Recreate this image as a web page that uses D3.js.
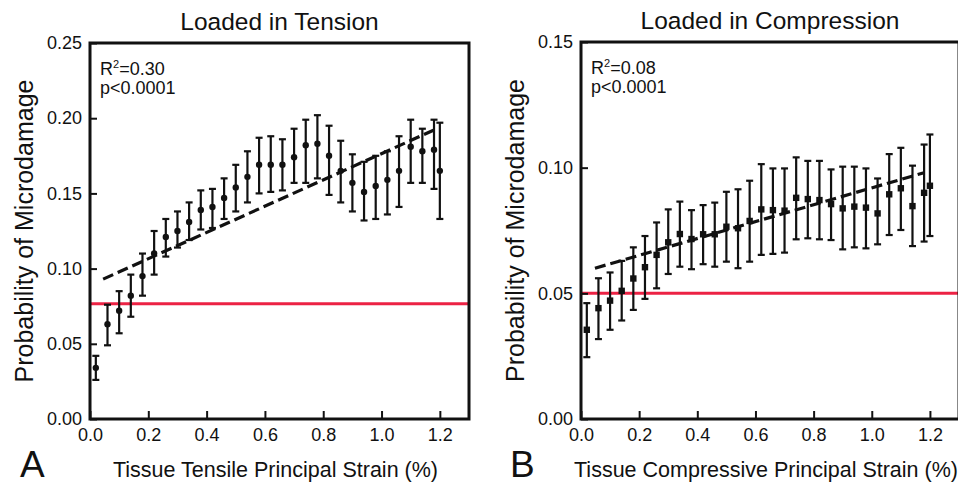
<!DOCTYPE html>
<html>
<head>
<meta charset="utf-8">
<script src="https://d3js.org/d3.v7.min.js"></script>
<style>
  body { margin: 0; background: #fff; }
  text { font-family: "Liberation Sans", Arial, sans-serif; fill: #111; }
</style>
</head>
<body>
<svg id="chart" width="958" height="487"></svg>
<script>
// strain bins (%), same for both panels
const strain = [0.02, 0.06, 0.10, 0.14, 0.18, 0.22, 0.26, 0.30, 0.34, 0.38, 0.42, 0.46,
  0.50, 0.54, 0.58, 0.62, 0.66, 0.70, 0.74, 0.78, 0.82, 0.86, 0.90, 0.94, 0.98, 1.02,
  1.06, 1.10, 1.14, 1.18, 1.20]

// panel A - tension
const tensionMean = [0.034, 0.063, 0.072, 0.082, 0.095, 0.110, 0.121, 0.125, 0.131, 0.139, 0.141, 0.147,
  0.154, 0.161, 0.169, 0.169, 0.169, 0.174, 0.182, 0.183, 0.175, 0.165, 0.157, 0.151, 0.155, 0.159,
  0.165, 0.181, 0.178, 0.179, 0.165]
const tensionLow = [0.026, 0.049, 0.057, 0.068, 0.082, 0.096, 0.108, 0.114, 0.119, 0.126, 0.127, 0.133,
  0.138, 0.144, 0.150, 0.151, 0.152, 0.157, 0.157, 0.160, 0.149, 0.144, 0.138, 0.132, 0.133, 0.136,
  0.141, 0.157, 0.157, 0.153, 0.133]
const tensionHigh = [0.042, 0.076, 0.085, 0.096, 0.110, 0.125, 0.133, 0.138, 0.144, 0.152, 0.153, 0.160,
  0.169, 0.178, 0.187, 0.188, 0.186, 0.193, 0.199, 0.202, 0.195, 0.185, 0.176, 0.171, 0.175, 0.178,
  0.188, 0.199, 0.193, 0.199, 0.197]
const tensionFitX = [0.045, 1.178]
const tensionFitY = [0.093, 0.192]
const tensionBaseline = 0.0767
const tensionTicksY = [0, 0.05, 0.10, 0.15, 0.20, 0.25]

// panel B - compression
const compMean = [0.0355, 0.0441, 0.0471, 0.0510, 0.0559, 0.0604, 0.0653, 0.0703, 0.0736, 0.0716, 0.0735, 0.0735,
  0.0765, 0.0759, 0.0788, 0.0834, 0.0831, 0.0829, 0.0880, 0.0875, 0.0871, 0.0855, 0.0838, 0.0845, 0.0841, 0.0818,
  0.0894, 0.0918, 0.0847, 0.0900, 0.0928]
const compLow = [0.0246, 0.0318, 0.0355, 0.0392, 0.0434, 0.0478, 0.0520, 0.0577, 0.0606, 0.0596, 0.0616, 0.0606,
  0.0626, 0.0600, 0.0626, 0.0653, 0.0657, 0.0662, 0.0715, 0.0719, 0.0715, 0.0712, 0.0675, 0.0683, 0.0679, 0.0695,
  0.0732, 0.0752, 0.0688, 0.0706, 0.0728]
const compHigh = [0.0461, 0.0560, 0.0583, 0.0629, 0.0683, 0.0728, 0.0782, 0.0834, 0.0865, 0.0831, 0.0851, 0.0861,
  0.0904, 0.0914, 0.0948, 0.1014, 0.0997, 0.0997, 0.1041, 0.1027, 0.1027, 0.0993, 0.1004, 0.1004, 0.0997, 0.0957,
  0.1054, 0.1079, 0.1008, 0.1092, 0.1132]
const compFitX = [0.048, 1.18]
const compFitY = [0.060, 0.098]
const compBaseline = 0.050
const compTicksY = [0, 0.05, 0.10, 0.15]

const xTicks = [0, 0.2, 0.4, 0.6, 0.8, 1.0, 1.2]

const svg = d3.select('#chart')

function drawPanel(p){
  const g = svg.append("g")
    .attr("transform", "translate(" + p.left + "," + p.top + ")")

  const x = d3.scaleLinear().domain([0, 1.3]).range([0, p.width])
  const y = d3.scaleLinear().domain([0, p.yMax]).range([p.height, 0])

  // red reference line
  g.append("line")
    .attr("x1", 0).attr("x2", p.width)
    .attr("y1", y(p.baseline)).attr("y2", y(p.baseline))
    .attr("stroke", "#ec2244")
    .attr("stroke-width", 3)

  // dashed fit line
  g.append("path")
    .datum(d3.zip(p.fitX, p.fitY))
    .attr("fill", "none")
    .attr("stroke", "#111")
    .attr("stroke-width", 3.2)
    .attr("stroke-dasharray", "11,5")
    .attr("d", d3.line()
      .x(function(d) { return x(d[0]) })
      .y(function(d) { return y(d[1]) }))

  const rows = strain.map(function(s, i){ return {x: s, m: p.mean[i], lo: p.low[i], hi: p.high[i]} })

  const bars = g.append("g").selectAll("g")
    .data(rows)
    .enter()
    .append("g")
    .attr("stroke", "#111")
    .attr("stroke-width", 2.2)

  bars.append("line")
    .attr("x1", function(d) { return x(d.x) })
    .attr("x2", function(d) { return x(d.x) })
    .attr("y1", function(d) { return y(d.lo) })
    .attr("y2", function(d) { return y(d.hi) })
  bars.append("line")
    .attr("x1", function(d) { return x(d.x) - 3.5 })
    .attr("x2", function(d) { return x(d.x) + 3.5 })
    .attr("y1", function(d) { return y(d.hi) })
    .attr("y2", function(d) { return y(d.hi) })
  bars.append("line")
    .attr("x1", function(d) { return x(d.x) - 3.5 })
    .attr("x2", function(d) { return x(d.x) + 3.5 })
    .attr("y1", function(d) { return y(d.lo) })
    .attr("y2", function(d) { return y(d.lo) })

  if (p.square) {
    g.append("g").selectAll("rect")
      .data(rows)
      .enter()
      .append("rect")
      .attr("x", function(d) { return x(d.x) - 3.2 })
      .attr("y", function(d) { return y(d.m) - 3.2 })
      .attr("width", 6.4)
      .attr("height", 6.4)
      .attr("fill", "#111")
  } else {
    g.append("g").selectAll("circle")
      .data(rows)
      .enter()
      .append("circle")
      .attr("cx", function(d) { return x(d.x) })
      .attr("cy", function(d) { return y(d.m) })
      .attr("r", 3.2)
      .attr("fill", "#111")
  }

  // axes, ticks pointing inward
  const xAxis = g.append("g")
    .attr("transform", "translate(0," + p.height + ")")
    .call(d3.axisBottom(x).tickValues(xTicks).tickFormat(d3.format(".1f"))
      .tickSizeInner(-8).tickSizeOuter(0).tickPadding(9))
  const yAxis = g.append("g")
    .call(d3.axisLeft(y).tickValues(p.ticksY).tickFormat(d3.format(".2f"))
      .tickSizeInner(-7).tickSizeOuter(0).tickPadding(8))
  ;[xAxis, yAxis].forEach(function(a){
    a.select(".domain").remove()
    a.selectAll(".tick line").attr("stroke", "#111").attr("stroke-width", 2)
    a.selectAll(".tick text")
      .style("font-family", "'Liberation Sans', Arial, sans-serif")
      .style("font-size", "18px")
      .attr("fill", "#222")
  })

  // frame
  g.append("rect")
    .attr("width", p.width)
    .attr("height", p.height)
    .attr("fill", "none")
    .attr("stroke", "#111")
    .attr("stroke-width", 3)

  // texts
  g.append("text")
    .attr("x", p.width / 2)
    .attr("y", -13)
    .attr("text-anchor", "middle")
    .style("font-size", "24.5px")
    .text(p.title)

  const stat = g.append("text")
    .attr("x", 10)
    .attr("y", 32)
    .style("font-size", "18px")
  stat.append("tspan").text("R")
  stat.append("tspan").attr("dy", -7).style("font-size", "11px").text("2")
  stat.append("tspan").attr("dy", 7).text("=" + p.r2)
  g.append("text")
    .attr("x", 10)
    .attr("y", 51)
    .style("font-size", "18px")
    .text("p<0.0001")

  g.append("text")
    .attr("transform", "rotate(-90)")
    .attr("x", -p.height / 2)
    .attr("y", p.yLabelX)
    .attr("text-anchor", "middle")
    .style("font-size", "25px")
    .text("Probability of Microdamage")

  g.append("text")
    .attr("x", p.width / 2 - 4)
    .attr("y", p.height + 58)
    .attr("text-anchor", "middle")
    .style("font-size", "21.5px")
    .text(p.xLabel)

  g.append("text")
    .attr("x", p.letterX)
    .attr("y", p.height + 58)
    .style("font-size", "37px")
    .text(p.letter)
}

drawPanel({
  left: 90, top: 43, width: 379, height: 376, yMax: 0.25,
  mean: tensionMean, low: tensionLow, high: tensionHigh,
  fitX: tensionFitX, fitY: tensionFitY, baseline: tensionBaseline, ticksY: tensionTicksY,
  title: "Loaded in Tension", r2: "0.30",
  xLabel: "Tissue Tensile Principal Strain (%)", letter: "A", letterX: -70,
  yLabelX: -57, square: false
})

drawPanel({
  left: 581, top: 42, width: 378, height: 377, yMax: 0.15,
  mean: compMean, low: compLow, high: compHigh,
  fitX: compFitX, fitY: compFitY, baseline: compBaseline, ticksY: compTicksY,
  title: "Loaded in Compression", r2: "0.08",
  xLabel: "Tissue Compressive Principal Strain (%)", letter: "B", letterX: -71,
  yLabelX: -57, square: true
})
</script>
</body>
</html>
